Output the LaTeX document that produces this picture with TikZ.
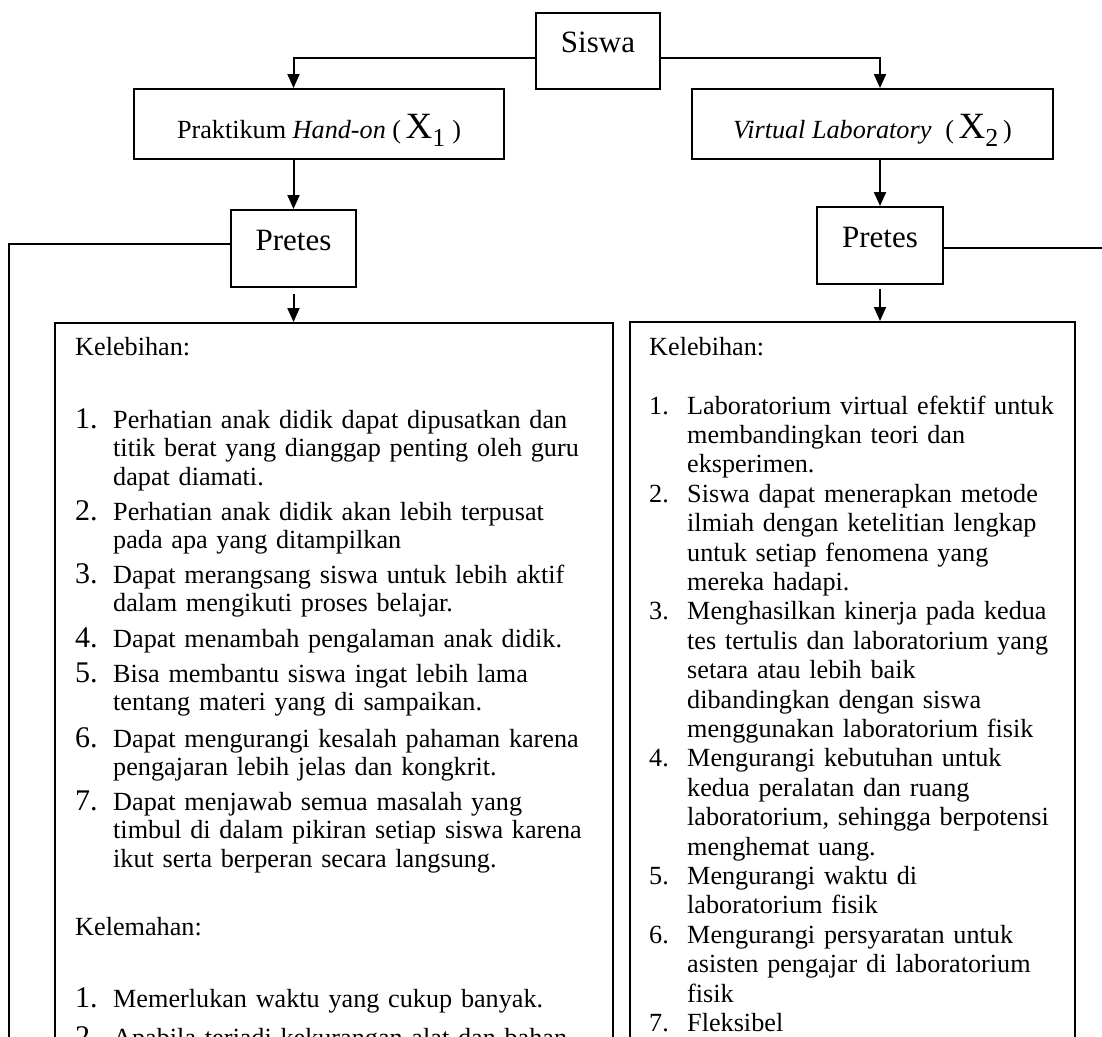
\documentclass[tikz,border=0pt]{standalone}
\usepackage{fontspec}
\setmainfont{Liberation Serif}
\usetikzlibrary{arrows.meta}
\newcommand{\headfont}{\fontsize{31}{31}\selectfont}
\newcommand{\bodyfont}{\fontsize{26.2}{29.4}\selectfont}
\newcommand{\itemfont}{\fontsize{26.2}{28.6}\selectfont}
\newcommand{\numfont}{\fontsize{30}{34}\selectfont}
\newcommand{\bigX}[1]{{\fontsize{37}{37}\selectfont X\textsubscript{#1}}}
\tikzset{
	box/.style={draw,line width=2pt,inner sep=0pt},
	arr/.style={line width=2pt,-{Triangle[length=14pt,width=12pt]}},
	link/.style={line width=2pt},
	txt/.style={anchor=base west,inner sep=0pt,align=left}
}
\begin{document}
\begin{tikzpicture}[x=1pt,y=-1pt]
	\useasboundingbox (0,0) rectangle (1102,1036);
	\clip (0,0) rectangle (1102,1036);
	\node[box,font=\headfont,minimum width=124pt,text height=39pt,text depth=37pt,anchor=base] (siswa) at (598,52) {Siswa};
	\node[box,font=\bodyfont,minimum width=370pt,text height=49pt,text depth=21pt,anchor=base] (hand) at (319,138) {Praktikum \textit{Hand-on} (\,\bigX{1} )};
	\node[box,font=\bodyfont,minimum width=361pt,text height=49pt,text depth=21pt,anchor=base] (virt) at (872.5,138) {\textit{Virtual Laboratory}\hspace{14pt}(\,\bigX{2}\,)};
	\node[box,font=\headfont,minimum width=125pt,text height=40pt,text depth=37pt,anchor=base] (pretesA) at (293.5,250) {Pretes};
	\node[box,font=\headfont,minimum width=126pt,text height=40pt,text depth=37pt,anchor=base] (pretesB) at (880,247) {Pretes};
	\node[box,minimum width=558pt,minimum height=800pt,anchor=north west] (boxA) at (54,322) {};
	\node[box,minimum width=445pt,minimum height=800pt,anchor=north west] (boxB) at (629,321) {};
	\coordinate (leftEnd) at (9,1060);
	\coordinate (rightEnd) at (1110,248);
	\draw[arr] ([yshift=-7pt]siswa.west) -| (hand.north -| pretesA.north);
	\draw[arr] ([yshift=-7pt]siswa.east) -| (virt.north -| pretesB.north);
	\draw[arr] (pretesA.north |- hand.south) -- (pretesA.north);
	\draw[arr] (pretesB.north |- virt.south) -- (pretesB.north);
	\draw[arr,shorten <=6pt] (pretesA.south) -- (pretesA.south |- boxA.north);
	\draw[arr,shorten <=4pt] (pretesB.south) -- (pretesB.south |- boxB.north);
	\draw[link] ([yshift=4.5pt]pretesA.west) -| (leftEnd);
	\draw[link] (pretesB.east |- rightEnd) -- (rightEnd);
	\node[txt,font=\bodyfont] (lebihA) at (75,355) {Kelebihan:};
	\foreach \n/\y/\t in {1/428/{Perhatian anak didik dapat dipusatkan dan\\titik berat yang dianggap penting oleh guru\\dapat diamati.},
		2/520/{Perhatian anak didik akan lebih terpusat\\pada apa yang ditampilkan},
		3/583/{Dapat merangsang siswa untuk lebih aktif\\dalam mengikuti proses belajar.},
		4/647/{Dapat menambah pengalaman anak didik.},
		5/682/{Bisa membantu siswa ingat lebih lama\\tentang materi yang di sampaikan.},
		6/747/{Dapat mengurangi kesalah pahaman karena\\pengajaran lebih jelas dan kongkrit.},
		7/810/{Dapat menjawab semua masalah yang\\timbul di dalam pikiran setiap siswa karena\\ikut serta berperan secara langsung.}}{
		\node[txt,font=\numfont] (numA\n) at (75,\y) {\n.};
		\node[txt,font=\itemfont,text width=490pt] (itemA\n) at (113,\y) {\t};
	}
	\node[txt,font=\bodyfont] (lemahA) at (75,935) {Kelemahan:};
	\foreach \n/\y/\t in {1/1007/{Memerlukan waktu yang cukup banyak.},
		2/1046/{Apabila terjadi kekurangan alat dan bahan}}{
		\node[txt,font=\numfont] (numL\n) at (75,\y) {\n.};
		\node[txt,font=\itemfont,text width=490pt] (itemL\n) at (113,\y) {\t};
	}
	\node[txt,font=\bodyfont] (lebihB) at (649,355) {Kelebihan:};
	\foreach \n/\k/\t in {1/0/{Laboratorium virtual efektif untuk\\membandingkan teori dan\\eksperimen.},
		2/3/{Siswa dapat menerapkan metode\\ilmiah dengan ketelitian lengkap\\untuk setiap fenomena yang\\mereka hadapi.},
		3/7/{Menghasilkan kinerja pada kedua\\tes tertulis dan laboratorium yang\\setara atau lebih baik\\dibandingkan dengan siswa\\menggunakan laboratorium fisik},
		4/12/{Mengurangi kebutuhan untuk\\kedua peralatan dan ruang\\laboratorium, sehingga berpotensi\\menghemat uang.},
		5/16/{Mengurangi waktu di\\laboratorium fisik},
		6/18/{Mengurangi persyaratan untuk\\asisten pengajar di laboratorium\\fisik},
		7/21/{Fleksibel}}{
		\node[txt,font=\bodyfont] (numB\n) at (649,{414+29.4*\k}) {\n.};
		\node[txt,font=\bodyfont,text width=380pt] (itemB\n) at (687,{414+29.4*\k}) {\t};
	}
\end{tikzpicture}
\end{document}
